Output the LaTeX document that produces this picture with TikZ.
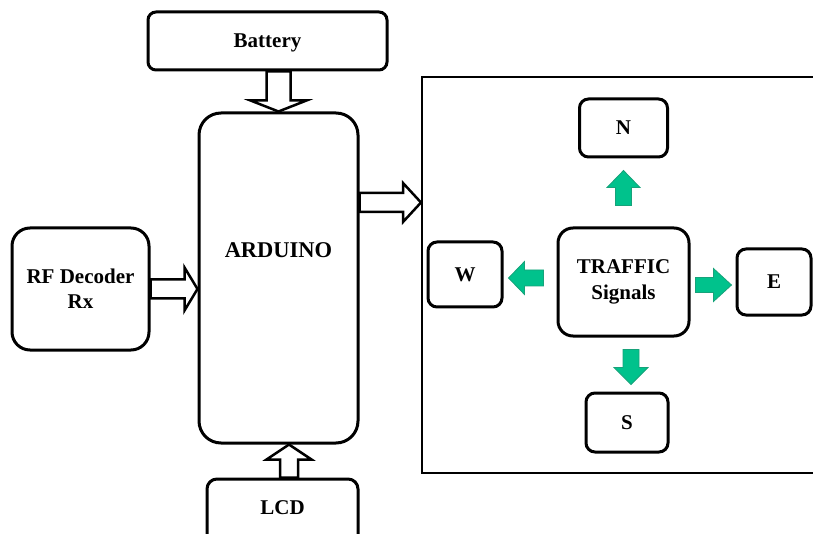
\documentclass[tikz,border=0pt]{standalone}
\usepackage{fontspec}
\setmainfont{Liberation Serif}
\usepackage{tikz}
\usetikzlibrary{calc}
\definecolor{tsgreen}{HTML}{00C28C}
\definecolor{tsgreendark}{HTML}{17A27A}

\begin{document}
\begin{tikzpicture}[
  x=1pt,
  y=-1pt,
  blockbox/.style={draw=black, line width=3pt, fill=white, align=center, inner sep=0pt,
    font=\bfseries\fontsize{21}{25}\selectfont},
  frame/.style={draw=black, line width=2pt, inner sep=0pt},
  blockarrow/.style n args={3}{to path={
    ($(\tikztostart)!#1!90:(\tikztotarget)$)
    -- ($($(\tikztotarget)!#3!(\tikztostart)$)!#1!-90:(\tikztostart)$)
    -- ($($(\tikztotarget)!#3!(\tikztostart)$)!#2!-90:(\tikztostart)$)
    -- (\tikztotarget)
    -- ($($(\tikztotarget)!#3!(\tikztostart)$)!#2!90:(\tikztostart)$)
    -- ($($(\tikztotarget)!#3!(\tikztostart)$)!#1!90:(\tikztostart)$)
    -- ($(\tikztostart)!#1!-90:(\tikztotarget)$)
    -- cycle}},
  hollow/.style={draw=black, line width=2.5pt, line join=miter, fill=white},
  signal/.style={draw=tsgreendark, line width=0.8pt, line join=miter, fill=tsgreen}
]
\useasboundingbox (0,0) rectangle (813,534);

\node[blockbox, rounded corners=8, minimum width=239, minimum height=58, text depth=0pt] (battery) at (267.5,41) {Battery};
\node[blockbox, rounded corners=22, minimum width=159, minimum height=330, text depth=56pt,
  font=\bfseries\fontsize{22.5}{26}\selectfont] (arduino) at (278.5,278) {ARDUINO};
\node[blockbox, rounded corners=18, minimum width=137, minimum height=122] (rf) at (80.5,289) {RF Decoder\\Rx};
\node[blockbox, rounded corners=10, minimum width=151, minimum height=82, text depth=25pt] (lcd) at (282.5,520) {LCD};

\node[frame, minimum width=400, minimum height=396, anchor=north west] (panel) at (421,76) {};
\node[blockbox, rounded corners=15, minimum width=131, minimum height=108, font=\bfseries\fontsize{21}{26}\selectfont] (traffic) at (623.5,282) {TRAFFIC\\Signals};
\node[blockbox, rounded corners=9, minimum width=88, minimum height=58] (north) at (623.5,128) {N};
\node[blockbox, rounded corners=9, minimum width=74, minimum height=65] (west) at (465,274.5) {W};
\node[blockbox, rounded corners=9, minimum width=74, minimum height=66] (east) at (774,282) {E};
\node[blockbox, rounded corners=9, minimum width=82, minimum height=59] (south) at (627,422.5) {S};

\coordinate (ardout) at ([yshift=75.5]arduino.east);

\draw[hollow] (battery.south -| arduino.north) to[blockarrow={12pt}{28pt}{11pt}] (arduino.north);
\draw[hollow] (rf.east) to[blockarrow={9.5pt}{21.5pt}{13pt}] (rf.east -| arduino.west);
\draw[hollow] (ardout) to[blockarrow={9.5pt}{19.5pt}{18pt}] (ardout -| panel.west);
\draw[hollow] ([xshift=6.5]lcd.north) to[blockarrow={9pt}{22.5pt}{15pt}] ([xshift=10.5]arduino.south);

\draw[signal] ([yshift=21]traffic.north) to[blockarrow={8pt}{16.5pt}{17pt}] ([yshift=-12]north.south);
\draw[signal] ([xshift=-13,yshift=4]traffic.west) to[blockarrow={8pt}{16.5pt}{16pt}] ([xshift=5,yshift=-3.5]west.east);
\draw[signal] ([xshift=5,yshift=-3]traffic.east) to[blockarrow={7.5pt}{16.5pt}{18pt}] ([xshift=-4,yshift=-3]east.west);
\draw[signal] ([xshift=7.5,yshift=-12]traffic.south) to[blockarrow={8pt}{17pt}{17pt}] ([xshift=4,yshift=7]south.north);
\end{tikzpicture}
\end{document}
